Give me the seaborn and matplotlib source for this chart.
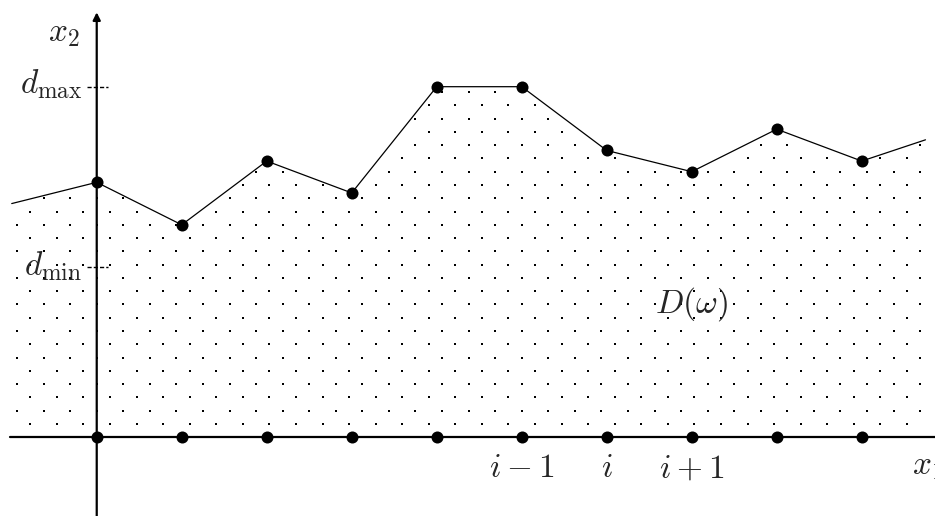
import numpy as np
import pandas as pd
import matplotlib.pyplot as plt
import seaborn as sns

# datos del dibujo
nodos_x = [0, 1, 2, 3, 4, 5, 6, 7, 8, 9]
alturas = [3.0, 2.5, 3.25, 2.875, 4.125, 4.125, 3.375, 3.125, 3.625, 3.25]
extremo_izq = (-1.0, 2.75)
extremo_der = (9.75, 3.5)
d_max = 4.125
d_min = 2.0
etiquetas_x = ["$i-1$", "$i$", "$i+1$"]
pos_etiquetas_x = [5, 6, 7]

sns.set_style("white")
plt.rcParams["mathtext.fontset"] = "cm"

fig = plt.figure(figsize=(9.35, 5.16), dpi=100)
ax = fig.add_axes([0, 0, 1, 1])
ax.set_xlim(-1.138, 9.862)
ax.set_ylim(-0.926, 5.145)
ax.axis("off")

# polilinea completa
xs = [extremo_izq[0]] + nodos_x + [extremo_der[0]]
ys = [extremo_izq[1]] + alturas + [extremo_der[1]]
df_linea = pd.DataFrame({"x": xs, "y": ys})

# textura de puntitos bajo la curva (solo decoracion)
dx, dy = 0.3125, 0.15625
px, py = [], []
for k in range(1, 30):
    yy = k * dy
    desplaz = dx / 2 if k % 2 == 1 else 0.0
    cols = np.arange(-4 * dx + desplaz, 10.0, dx)
    for xx in cols:
        if xs[0] <= xx <= xs[-1] and yy < np.interp(xx, xs, ys) - 0.03:
            px.append(xx)
            py.append(yy)
ax.scatter(px, py, s=0.6, marker="s", color="black", linewidths=0, zorder=1)

# ejes
ax.plot([-1.02, 10.0], [0, 0], color="black", lw=1.6, zorder=2)
ax.annotate("", xy=(0, 5.0), xytext=(0, -0.93),
            arrowprops=dict(arrowstyle="-|>", lw=1.6, color="black",
                            mutation_scale=11, shrinkA=0, shrinkB=0), zorder=2)

# marcas d_max y d_min
for nivel in [d_max, d_min]:
    ax.plot([-0.12, 0.13], [nivel, nivel], color="black", lw=1.0,
            linestyle=(0, (3, 1.5)), zorder=2)

sns.lineplot(data=df_linea, x="x", y="y", sort=False, color="black",
             lw=0.9, ax=ax, zorder=3)
sns.scatterplot(x=nodos_x, y=alturas, color="black", s=75, linewidth=0,
                ax=ax, zorder=4)
sns.scatterplot(x=nodos_x, y=[0] * len(nodos_x), color="black", s=75,
                linewidth=0, ax=ax, zorder=4)

fs = 24
ax.text(-0.385, 4.76, "$x_2$", fontsize=fs, ha="center", va="center")
ax.text(-0.17, 4.05, r"$d_{\max}$", fontsize=fs, ha="right", va="baseline")
ax.text(-0.17, 1.90, r"$d_{\min}$", fontsize=fs, ha="right", va="baseline")
ax.text(7.0, 1.57, r"$D(\omega)$", fontsize=fs, ha="center", va="center")
for pos, lab in zip(pos_etiquetas_x, etiquetas_x):
    ax.text(pos, -0.36, lab, fontsize=fs, ha="center", va="center")
ax.text(9.59, -0.33, "$x_1$", fontsize=fs, ha="left", va="center")

fig.savefig("out.png", dpi=100)
